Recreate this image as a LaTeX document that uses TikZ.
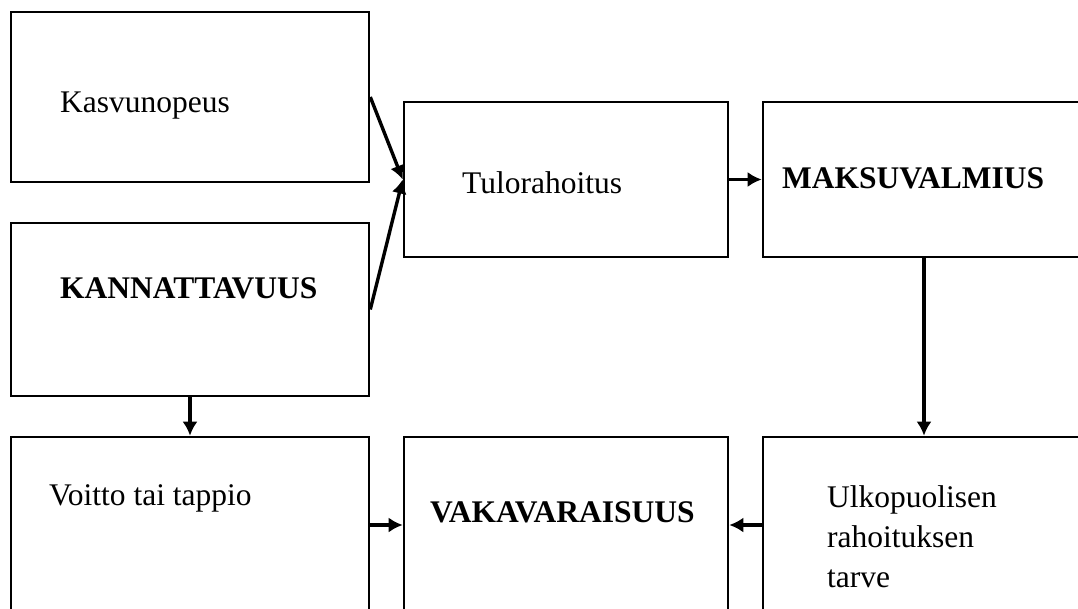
\documentclass[tikz,border=0pt]{standalone}
\usepackage{fontspec}
\setmainfont{Liberation Serif}
\usetikzlibrary{arrows.meta}
\begin{document}
\begin{tikzpicture}[x=1pt,y=-1pt,
  box/.style={draw=black, line width=2.6pt, rectangle, inner sep=0pt},
  txt/.style={inner sep=0pt, anchor=base west, font=\fontsize{31.5}{40}\selectfont},
  btxt/.style={txt, font=\fontsize{31.5}{40}\selectfont\bfseries},
  link/.style={line width=3.4pt, -{Latex[length=14pt,width=15pt]}}]
  \useasboundingbox (0,0) rectangle (1078,608);
  \clip (0,0) rectangle (1078,608);

  % boxes (centre, width, height)
  \node[box, minimum width=358pt, minimum height=170pt] (kasvu) at (190,97) {};
  \node[box, minimum width=358pt, minimum height=173pt] (kann)  at (190,309.5) {};
  \node[box, minimum width=324pt, minimum height=155pt] (tulo)  at (566,179.5) {};
  \node[box, minimum width=358pt, minimum height=155pt] (maksu) at (942,179.5) {};
  \node[box, minimum width=358pt, minimum height=176pt] (voitto) at (190,525) {};
  \node[box, minimum width=324pt, minimum height=176pt] (vaka)  at (566,525) {};
  \node[box, minimum width=358pt, minimum height=176pt] (ulko)  at (942,525) {};

  % labels
  \node[txt]  (t1) at (60,112)  {Kasvunopeus};
  \node[btxt] (t2) at (60,298)  {KANNATTAVUUS};
  \node[txt]  (t3) at (462,193) {Tulorahoitus};
  \node[btxt] (t4) at (782,188) {MAKSUVALMIUS};
  \node[txt]  (t5) at (49,505)  {Voitto tai tappio};
  \node[btxt] (t6) at (430,522) {VAKAVARAISUUS};
  \node[txt]  (t7) at (827,507) {Ulkopuolisen};
  \node[txt]  (t8) at (827,547) {rahoituksen};
  \node[txt]  (t9) at (827,587) {tarve};

  % connectors
  \draw[link] (kasvu.east) -- (tulo.west);
  \draw[link] (kann.east) -- (tulo.west);
  \draw[link] (tulo.east) -- (maksu.west);
  \draw[link] ([xshift=-18pt]maksu.south) -- ([xshift=-18pt]ulko.north);
  \draw[link] (kann.south) -- (voitto.north);
  \draw[link] (voitto.east) -- (vaka.west);
  \draw[link] (ulko.west) -- (vaka.east);
\end{tikzpicture}
\end{document}
